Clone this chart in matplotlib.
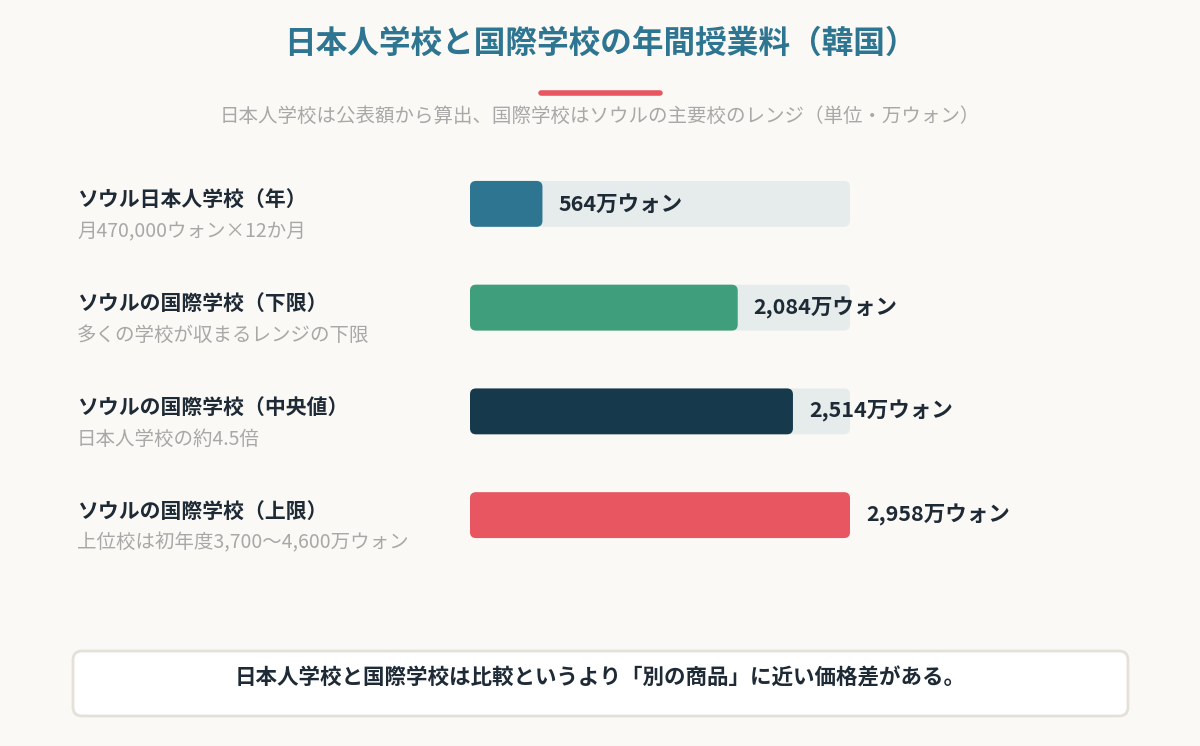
import matplotlib.pyplot as plt
from matplotlib.patches import FancyBboxPatch
from matplotlib.transforms import blended_transform_factory

plt.rcParams['font.family'] = ['Noto Sans CJK JP', 'DejaVu Sans']

# data
labels = ['ソウル日本人学校（年）', 'ソウルの国際学校（下限）',
          'ソウルの国際学校（中央値）', 'ソウルの国際学校（上限）']
notes = ['月470,000ウォン×12か月', '多くの学校が収まるレンジの下限',
         '日本人学校の約4.5倍', '上位校は初年度3,700〜4,600万ウォン']
values = [564, 2084, 2514, 2958]   # 万ウォン
colors = ['#2E7591', '#3F9E7C', '#163A4C', '#E85761']

BG = '#FBF9F5'
TRACK = '#E6ECEC'
DARK = '#1E2A35'
GREY = '#A8A8A8'

W, H = 1200, 746
fig = plt.figure(figsize=(W / 100, H / 100), dpi=100, facecolor=BG)

def fy(y):  # pixel from top -> figure fraction
    return 1 - y / H

fig.text(0.5, fy(44), '日本人学校と国際学校の年間授業料（韓国）', ha='center', va='center',
         fontsize=22.8, fontweight='bold', color='#2E7591')
fig.add_artist(plt.Line2D([541 / W, 660 / W], [fy(93), fy(93)], color='#E85761',
                          lw=4, solid_capstyle='round'))
fig.text(0.5, fy(116), '日本人学校は公表額から算出、国際学校はソウルの主要校のレンジ（単位・万ウォン）',
         ha='center', va='center', fontsize=14, color=GREY)

# bar axes
vmax = max(values)
ax = fig.add_axes([470 / W, fy(567), 380 / W, (567 - 152) / H])
ax.set_facecolor('none')
ax.set_xlim(0, vmax)
ax.set_ylim(len(values) - 0.5, -0.5)
ax.axis('off')

xpx = vmax / 380.0          # data units per pixel in x
ypx = 1 / 104.0             # data units per pixel in y
aspect = ypx / xpx
bh = 46 * ypx

ypos = list(range(len(values)))
track = ax.barh(ypos, [vmax] * len(values), height=bh)
bars = ax.barh(ypos, values, height=bh)
for group, cols in ((track, [TRACK] * len(values)), (bars, colors)):
    for rect, c in zip(group, cols):
        rect.set_visible(False)
        ax.add_patch(FancyBboxPatch((rect.get_x(), rect.get_y()), rect.get_width(), rect.get_height(),
                                    boxstyle='round,pad=0,rounding_size=%f' % (6 * xpx),
                                    mutation_aspect=aspect, fc=c, ec='none'))

for y, v in zip(ypos, values):
    ax.text(v + 16 * xpx, y, f'{v:,}万ウォン', va='center', ha='left',
            fontsize=15.5, fontweight='bold', color=DARK, clip_on=False)

tr = blended_transform_factory(fig.transFigure, ax.transData)
for y, lab, note in zip(ypos, labels, notes):
    ax.text(77 / W, y - 4 * ypx, lab, transform=tr, va='center', ha='left',
            fontsize=15, fontweight='bold', color=DARK)
    ax.text(77 / W, y + 28 * ypx, note, transform=tr, va='center', ha='left',
            fontsize=14, color=GREY)

# bottom note box
fig.add_artist(FancyBboxPatch((73 / W, fy(716)), (1128 - 73) / W, (716 - 651) / H,
                              boxstyle='round,pad=0,rounding_size=%f' % (9 / W),
                              mutation_aspect=W / H, transform=fig.transFigure,
                              fc='white', ec='#E5E0D8', lw=2))
fig.text(0.5, fy(678), '日本人学校と国際学校は比較というより「別の商品」に近い価格差がある。',
         ha='center', va='center', fontsize=15.5, fontweight='bold', color=DARK)

fig.savefig('out.png', dpi=100, facecolor=BG)
